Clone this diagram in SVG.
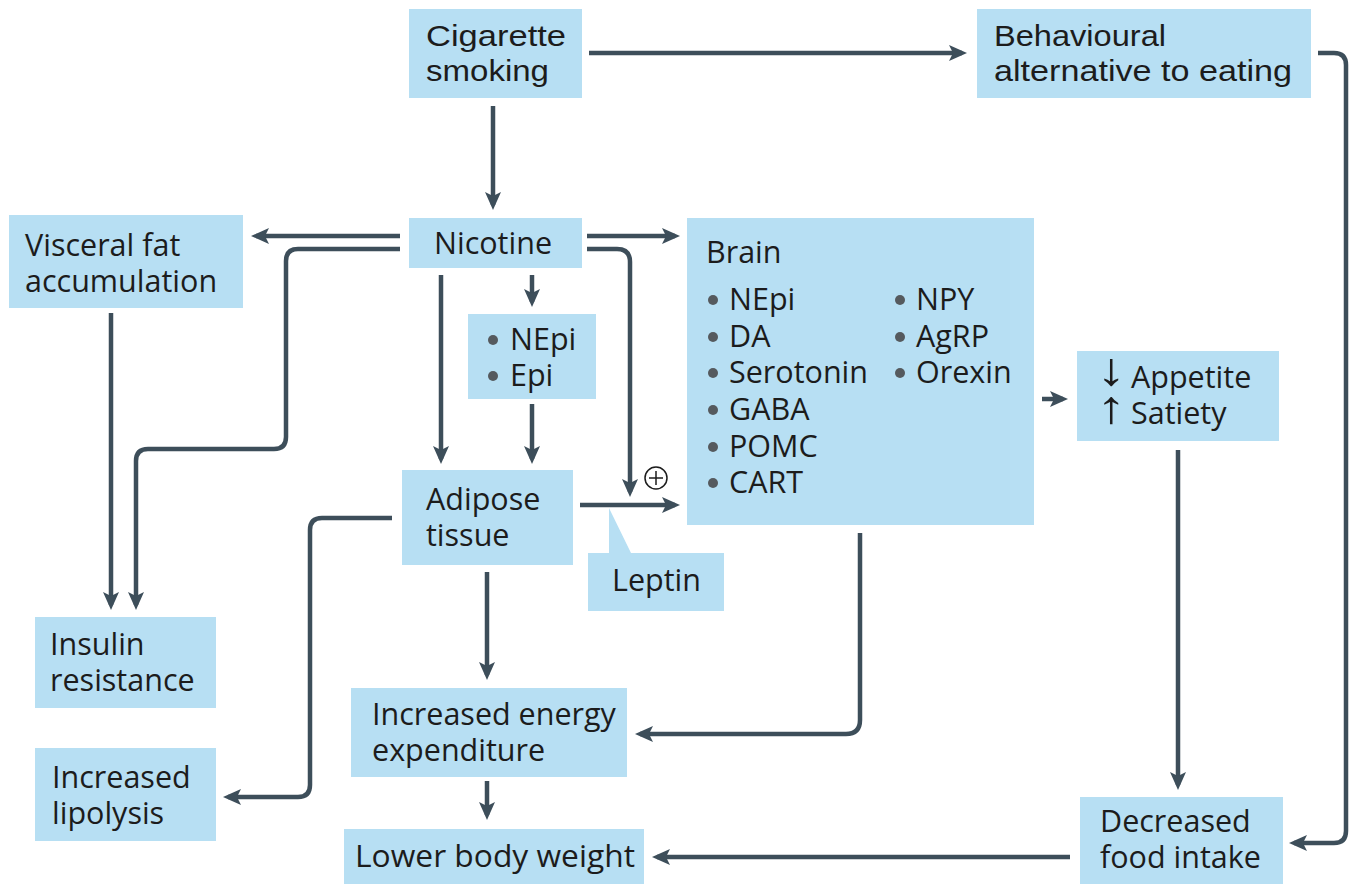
<svg xmlns="http://www.w3.org/2000/svg" width="1358" height="884" viewBox="0 0 1358 884">
<style>
.box{fill:#b7dff3}
.t{font-family:"Open Sans","Liberation Sans",sans-serif;font-size:30.5px;fill:#1c1c1c}
.c{font-family:"Liberation Sans","Open Sans",sans-serif;font-size:29px;fill:#1c1c1c}
.ar{font-family:"Liberation Sans","DejaVu Sans",sans-serif;font-size:46px;fill:#1c1c1c}
.b{fill:#555a5e}
.ln{fill:none;stroke:#3d4e5a;stroke-width:4.5;marker-end:url(#ah)}
</style>
<defs>
<marker id="ah" markerUnits="userSpaceOnUse" markerWidth="20" markerHeight="18" refX="13" refY="8" orient="auto">
<path d="M0,0 L18,8 L0,16 L4,8 Z" fill="#3d4e5a"/>
</marker>
</defs>
<rect width="1358" height="884" fill="#ffffff"/>

<g id="connectors">
<path class="ln" d="M493,106 V205"/>
<path class="ln" d="M589,53 H962"/>
<path class="ln" d="M1318,53 H1334 Q1346,53 1346,65 V831 Q1346,843 1334,843 H1294"/>
<path class="ln" d="M400,236 H256"/>
<path class="ln" d="M400,249 H298 Q286,249 286,261 V437 Q286,449 274,449 H148 Q136,449 136,461 V605"/>
<path class="ln" d="M111,313 V605"/>
<path class="ln" d="M441,275 V459"/>
<path class="ln" d="M532,275 V302"/>
<path class="ln" d="M532,404 V459"/>
<path class="ln" d="M587,236 H675"/>
<path class="ln" d="M587,249 H617 Q630,249 630,262 V492"/>
<path class="ln" d="M580,505 H675"/>
<path class="ln" d="M392,518 H322 Q310,518 310,530 V785 Q310,797 298,797 H228"/>
<path class="ln" d="M487,572 V675"/>
<path class="ln" d="M860,533 V720 Q860,734 846,734 H640"/>
<path class="ln" d="M1042,399 H1063"/>
<path class="ln" d="M1178,450 V785"/>
<path class="ln" d="M487,781 V815"/>
<path class="ln" d="M1070,857 H657"/>
<g id="plus">
<circle cx="656" cy="478" r="11" fill="#ffffff" stroke="#1c1c1c" stroke-width="1.5"/>
<path d="M649,478 H663 M656,471 V485" stroke="#1c1c1c" stroke-width="1.5"/>
</g>
</g>

<g id="cigarette">
<rect class="box" x="409" y="9" width="173" height="89"/>
<text class="c" x="426" y="46" textLength="140" lengthAdjust="spacingAndGlyphs">Cigarette</text>
<text class="c" x="426" y="81" textLength="123" lengthAdjust="spacingAndGlyphs">smoking</text>
</g>
<g id="behavioural">
<rect class="box" x="977" y="9" width="334" height="89"/>
<text class="c" x="994" y="46" textLength="172" lengthAdjust="spacingAndGlyphs">Behavioural</text>
<text class="c" x="994" y="81" textLength="298" lengthAdjust="spacingAndGlyphs">alternative to eating</text>
</g>
<g id="nicotine">
<rect class="box" x="409" y="218" width="173" height="50"/>
<text class="t" x="434" y="254">Nicotine</text>
</g>
<g id="visceral">
<rect class="box" x="9" y="215" width="234" height="93"/>
<text class="t" x="25" y="256">Visceral fat</text>
<text class="t" x="25" y="292">accumulation</text>
</g>
<g id="nepi">
<rect class="box" x="468" y="314" width="128" height="85"/>
<circle class="b" cx="493" cy="340" r="5"/>
<text class="t" x="510" y="350">NEpi</text>
<circle class="b" cx="493" cy="376" r="5"/>
<text class="t" x="510" y="386">Epi</text>
</g>
<g id="brain">
<rect class="box" x="687" y="218" width="347" height="307"/>
<text class="t" x="706" y="263">Brain</text>
<circle class="b" cx="713" cy="300" r="5"/><text class="t" x="729" y="310">NEpi</text>
<circle class="b" cx="713" cy="337" r="5"/><text class="t" x="729" y="347">DA</text>
<circle class="b" cx="713" cy="373" r="5"/><text class="t" x="729" y="383">Serotonin</text>
<circle class="b" cx="713" cy="410" r="5"/><text class="t" x="729" y="420">GABA</text>
<circle class="b" cx="713" cy="447" r="5"/><text class="t" x="729" y="457">POMC</text>
<circle class="b" cx="713" cy="483" r="5"/><text class="t" x="729" y="493">CART</text>
<circle class="b" cx="900" cy="300" r="5"/><text class="t" x="916" y="310">NPY</text>
<circle class="b" cx="900" cy="337" r="5"/><text class="t" x="916" y="347">AgRP</text>
<circle class="b" cx="900" cy="373" r="5"/><text class="t" x="916" y="383">Orexin</text>
</g>
<g id="appetite">
<rect class="box" x="1077" y="351" width="202" height="90"/>
<text class="ar" transform="translate(1096,385) scale(1.3,1)">↓</text>
<text class="t" x="1131" y="388">Appetite</text>
<text class="ar" transform="translate(1096,423) scale(1.3,1)">↑</text>
<text class="t" x="1131" y="424">Satiety</text>
</g>
<g id="adipose">
<rect class="box" x="402" y="470" width="171" height="95"/>
<text class="t" x="426" y="510">Adipose</text>
<text class="t" x="426" y="546">tissue</text>
</g>
<g id="leptin">
<path class="box" d="M609,508 L631,553 H724 V611 H588 V553 H609 Z"/>
<text class="t" x="612" y="591">Leptin</text>
</g>
<g id="insulin">
<rect class="box" x="35" y="617" width="181" height="91"/>
<text class="t" x="50" y="655">Insulin</text>
<text class="t" x="50" y="691">resistance</text>
</g>
<g id="lipolysis">
<rect class="box" x="35" y="748" width="181" height="93"/>
<text class="t" x="52" y="788">Increased</text>
<text class="t" x="52" y="824">lipolysis</text>
</g>
<g id="energy">
<rect class="box" x="351" y="688" width="276" height="89"/>
<text class="t" x="372" y="725">Increased energy</text>
<text class="t" x="372" y="761">expenditure</text>
</g>
<g id="lower">
<rect class="box" x="344" y="829" width="300" height="55"/>
<text class="t" x="355" y="867" textLength="280" lengthAdjust="spacingAndGlyphs">Lower body weight</text>
</g>
<g id="decreased">
<rect class="box" x="1080" y="797" width="203" height="87"/>
<text class="t" x="1100" y="832">Decreased</text>
<text class="t" x="1100" y="868">food intake</text>
</g>
</svg>
